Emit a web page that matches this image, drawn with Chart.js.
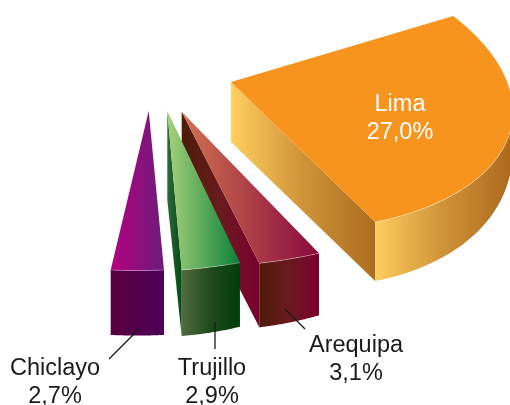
<!DOCTYPE html>
<html>
<head>
<meta charset="utf-8">
<style>
  html, body { margin: 0; padding: 0; background: #fff; }
  canvas { display: block; }
</style>
<script src="https://cdn.jsdelivr.net/npm/chart.js@4"></script>
</head>
<body>
<canvas id="myChart" width="510" height="405"></canvas>
<script>
// Cities and their share, only the slices that were pulled out of the pie
const cities = ["Lima", "Arequipa", "Trujillo", "Chiclayo"];
const shares = [27.0, 3.1, 2.9, 2.7];

// The pie is flat in Chart.js, each slice gets its own fake 3D view:
// apex = where the tip lands, m = canvas transform a,b,c,d
const sliceViews = [
  {
    apex: [231, 82], m: [2.8, 0.129, 0.322, 1.478],
    depthEnd: 59, depthStart: 0, apexDepth: 60,
    top: ["#F7941E", "#F7941E"], topX: [231, 510],
    wall: ["#FFCF5F", "#D09438", "#AD6A1E"], wallX: [373, 510],
    side: ["#FFCF5F", "#D09438", "#AD6E20"], sideX: [231, 373],
  },
  {
    apex: [181.7, 111.7], m: [3.256, -0.017, 0.042, 1.56],
    depthEnd: 64, depthStart: 62, apexDepth: 64,
    top: ["#CF7350", "#8A0A3E"], topX: [182, 319],
    wall: ["#4E1C08", "#6A1A1E", "#7C0030"], wallX: [259, 319],
    side: ["#4E1C08", "#6A1A1E", "#7C0030"], sideX: [182, 259],
  },
  {
    apex: [167.3, 111], m: [3.232, -0.184, -0.003, 1.6],
    depthEnd: 66, depthStart: 64, apexDepth: 89,
    top: ["#A5D07A", "#0B8038"], topX: [168, 240],
    wall: ["#4F6B3E", "#1F4A1C", "#003C0A"], wallX: [182, 240],
    side: ["#2F6B3A", "#004A14"], sideX: [167, 182],
  },
  {
    apex: [148.7, 111], m: [3.147, -0.064, 0.01, 1.594],
    depthEnd: 65, depthStart: 65, apexDepth: 0,
    top: ["#B4007E", "#6C1C7C"], topX: [110, 164],
    wall: ["#5A0040", "#4E0058"], wallX: [110, 165],
    side: null, sideX: null,
  },
];

// Text position: center x, first baseline, line height, colour, leader line
const labelLayout = [
  { x: 400, y: 111, color: "#fff", leader: null },
  { x: 356, y: 352, color: "#1a1a1a", leader: [285, 309, 305, 329] },
  { x: 212, y: 375, color: "#1a1a1a", leader: [215, 322, 215, 349] },
  { x: 55, y: 375, color: "#1a1a1a", leader: [109, 359, 139, 329] },
];

function toScreen(arc, view, x, y) {
  const dx = x - arc.x;
  const dy = y - arc.y;
  return {
    x: view.apex[0] + view.m[0] * dx + view.m[2] * dy,
    y: view.apex[1] + view.m[1] * dx + view.m[3] * dy,
  };
}

function rimPoints(arc, view) {
  const pts = [];
  const steps = 48;
  for (let i = 0; i <= steps; i++) {
    const a = arc.startAngle + ((arc.endAngle - arc.startAngle) * i) / steps;
    const p = toScreen(
      arc, view,
      arc.x + arc.outerRadius * Math.cos(a),
      arc.y + arc.outerRadius * Math.sin(a)
    );
    // t = 0 at the end of the slice, 1 at its start
    const t = 1 - i / steps;
    p.depth = view.depthEnd + (view.depthStart - view.depthEnd) * t * t;
    pts.push(p);
  }
  return pts;
}

function xGradient(ctx, xs, colors) {
  const g = ctx.createLinearGradient(xs[0], 0, xs[1], 0);
  colors.forEach((c, i) => g.addColorStop(i / (colors.length - 1), c));
  return g;
}

// Same horizontal gradient but for drawing inside the slice's transform
function localGradient(ctx, arc, view, xs, colors) {
  const [a, b, c, d] = view.m;
  const det = a * d - b * c;
  const sx = xs[0] - view.apex[0];
  const sy = 0 - view.apex[1];
  const x0 = (d * sx - c * sy) / det;
  const y0 = (-b * sx + a * sy) / det;
  const len = xs[1] - xs[0];
  const gx = a * len;
  const gy = c * len;
  const s = (len * len) / (gx * gx + gy * gy);
  const g = ctx.createLinearGradient(
    arc.x + x0, arc.y + y0,
    arc.x + x0 + s * gx, arc.y + y0 + s * gy
  );
  colors.forEach((col, i) => g.addColorStop(i / (colors.length - 1), col));
  return g;
}

const slices3d = {
  id: "slices3d",
  beforeDatasetDraw(chart) {
    const ctx = chart.ctx;
    chart.getDatasetMeta(0).data.forEach((arc, i) => {
      const view = sliceViews[i];
      const rim = rimPoints(arc, view);
      const last = rim[rim.length - 1];

      // straight wall along the end edge
      if (view.side) {
        ctx.beginPath();
        ctx.moveTo(view.apex[0], view.apex[1]);
        ctx.lineTo(last.x, last.y);
        ctx.lineTo(last.x, last.y + last.depth);
        ctx.lineTo(view.apex[0], view.apex[1] + view.apexDepth);
        ctx.closePath();
        ctx.fillStyle = xGradient(ctx, view.sideX, view.side);
        ctx.fill();
      }

      // curved outer wall
      ctx.beginPath();
      rim.forEach((p, j) => (j ? ctx.lineTo(p.x, p.y) : ctx.moveTo(p.x, p.y)));
      for (let j = rim.length - 1; j >= 0; j--) {
        ctx.lineTo(rim[j].x, rim[j].y + rim[j].depth);
      }
      ctx.closePath();
      ctx.fillStyle = xGradient(ctx, view.wallX, view.wall);
      ctx.fill();

      // top face, this is the normal Chart.js arc
      ctx.save();
      ctx.translate(view.apex[0], view.apex[1]);
      ctx.transform(view.m[0], view.m[1], view.m[2], view.m[3], 0, 0);
      ctx.translate(-arc.x, -arc.y);
      arc.options = Object.assign({}, arc.options, {
        backgroundColor: localGradient(ctx, arc, view, view.topX, view.top),
      });
      arc.draw(ctx);
      ctx.restore();

      // thin light edge where top and wall meet
      ctx.beginPath();
      rim.forEach((p, j) => (j ? ctx.lineTo(p.x, p.y) : ctx.moveTo(p.x, p.y)));
      ctx.strokeStyle = "rgba(255, 255, 255, 0.45)";
      ctx.lineWidth = 0.7;
      ctx.stroke();
    });
    return false;
  },
  afterDraw(chart) {
    const ctx = chart.ctx;
    ctx.save();
    ctx.font = '23.5px "Liberation Sans", sans-serif';
    ctx.textAlign = "center";
    ctx.textBaseline = "alphabetic";
    cities.forEach((city, i) => {
      const l = labelLayout[i];
      if (l.leader) {
        ctx.beginPath();
        ctx.moveTo(l.leader[0], l.leader[1]);
        ctx.lineTo(l.leader[2], l.leader[3]);
        ctx.strokeStyle = "#1a1a1a";
        ctx.lineWidth = 1.3;
        ctx.stroke();
      }
      ctx.fillStyle = l.color;
      ctx.fillText(city, l.x, l.y);
      ctx.fillText(shares[i].toFixed(1).replace(".", ",") + "%", l.x, l.y + 28);
    });
    ctx.restore();
  },
};

const total = shares.reduce((sum, v) => sum + v, 0);

const config = {
  type: "pie",
  data: {
    labels: cities,
    datasets: [
      {
        data: shares,
        backgroundColor: sliceViews.map((v) => v.top[0]),
        borderWidth: 0,
      },
    ],
  },
  options: {
    responsive: false,
    animation: false,
    events: [],
    radius: 100,
    rotation: 58.6,
    circumference: total * 3.6,
    plugins: {
      legend: { display: false },
      tooltip: { enabled: false },
    },
  },
  plugins: [slices3d],
};

const chart = new Chart(document.querySelector("#myChart"), config);
</script>
</body>
</html>
